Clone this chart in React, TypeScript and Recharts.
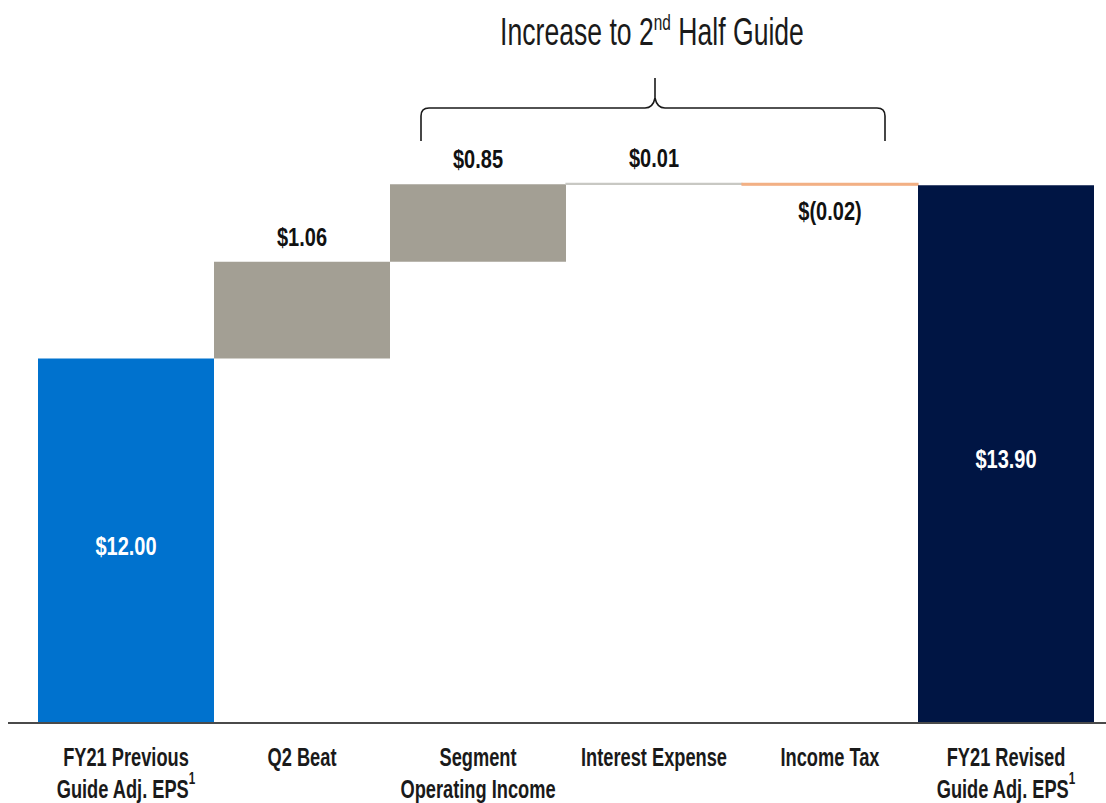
import React from 'react';
import { BarChart, Bar, XAxis, YAxis, Cell, LabelList } from 'recharts';

const categories = [
  'FY21 Previous\nGuide Adj. EPS',
  'Q2 Beat',
  'Segment\nOperating Income',
  'Interest Expense',
  'Income Tax',
  'FY21 Revised\nGuide Adj. EPS',
];
const footnotes = ['1', '', '', '', '', '1'];
const kinds = ['total', 'delta', 'delta', 'delta', 'delta', 'total'];
const values = [12.0, 1.06, 0.85, 0.01, -0.02, 13.9];
const valueLabels = ['$12.00', '$1.06', '$0.85', '$0.01', '$(0.02)', '$13.90'];
const barColors = ['#0072CE', '#A39F94', '#A39F94', '#C8C8C3', '#F2B084', '#001544'];
const title = { before: 'Increase to 2', sup: 'nd', after: ' Half Guide' };
const Y_MIN = 8;
const Y_MAX = 15;

const FONT = "'Liberation Sans', Arial, sans-serif";

const data = (() => {
  let running = 0;
  return categories.map((name, i) => {
    let range: [number, number];
    if (kinds[i] === 'total') {
      range = [Y_MIN, values[i]];
      running = values[i];
    } else {
      const next = running + values[i];
      range = [Math.min(running, next), Math.max(running, next)];
      running = next;
    }
    return { name, range };
  });
})();

const Tick = (props: any) => {
  const { x, y, payload } = props;
  const idx = categories.indexOf(payload.value);
  const lines = String(payload.value).split('\n');
  return (
    <g>
      {lines.map((ln, i) => {
        const isLast = i === lines.length - 1;
        const fn = isLast ? footnotes[idx] : '';
        return (
          <text
            key={i}
            transform={`translate(${x},${y + 43 + i * 32}) scale(0.73,1)`}
            textAnchor="middle"
            fontFamily={FONT}
            fontWeight="bold"
            fontSize={25}
            fill="#1a1a1a"
          >
            {ln}
            {fn ? (
              <tspan fontSize={16} dy={-14}>
                {fn}
              </tspan>
            ) : null}
          </text>
        );
      })}
    </g>
  );
};

const ValueLabel = (props: any) => {
  const { x, y, width, height, index } = props;
  const top = Math.min(y, y + height);
  const bottom = Math.max(y, y + height);
  const cx = x + width / 2;
  let ty: number;
  let fill = '#111';
  if (kinds[index] === 'total') {
    ty = (top + bottom) / 2 + 14;
    fill = '#ffffff';
  } else if (values[index] < 0) {
    ty = bottom + 35;
  } else {
    ty = top - 16;
  }
  return (
    <text
      transform={`translate(${cx},${ty}) scale(0.8,1)`}
      textAnchor="middle"
      fontFamily={FONT}
      fontWeight="bold"
      fontSize={25}
      fill={fill}
    >
      {valueLabels[index]}
    </text>
  );
};

export default function App() {
  return (
    <div style={{ position: 'fixed', top: 0, left: 0, width: 1106, height: 803, background: '#fff' }}>
      <BarChart
        width={1106}
        height={803}
        data={data}
        margin={{ top: 85, right: 0, left: 8, bottom: 0 }}
        barCategoryGap={0}
      >
        <XAxis
          dataKey="name"
          height={80}
          padding={{ left: 30, right: 12 }}
          tickLine={false}
          tickSize={0}
          tickMargin={0}
          axisLine={{ stroke: '#4a4a4a', strokeWidth: 2 }}
          tick={<Tick />}
          interval={0}
        />
        <YAxis hide domain={[Y_MIN, Y_MAX]} allowDataOverflow />
        <Bar dataKey="range" isAnimationActive={false}>
          {data.map((d, i) => (
            <Cell
              key={i}
              fill={barColors[i]}
              stroke={kinds[i] === 'delta' && Math.abs(values[i]) < 0.1 ? barColors[i] : 'none'}
              strokeWidth={1.2}
            />
          ))}
          <LabelList dataKey="range" content={<ValueLabel />} />
        </Bar>
      </BarChart>
      <svg
        width={1106}
        height={160}
        style={{ position: 'absolute', left: 0, top: 0, pointerEvents: 'none' }}
      >
        <text
          transform="translate(652,45) scale(0.7,1)"
          textAnchor="middle"
          fontFamily={FONT}
          fontSize={38}
          fill="#1a1a1a"
        >
          {title.before}
          <tspan fontSize={22} dy={-15}>
            {title.sup}
          </tspan>
          <tspan dy={15}>{title.after}</tspan>
        </text>
        <path
          d="M421,141 L421,116 Q421,108 429,108 L645,108 Q653,108 655,98 L655,78 L655,98 Q657,108 665,108 L877,108 Q885,108 885,116 L885,141"
          fill="none"
          stroke="#1a1a1a"
          strokeWidth={1.6}
        />
      </svg>
    </div>
  );
}
